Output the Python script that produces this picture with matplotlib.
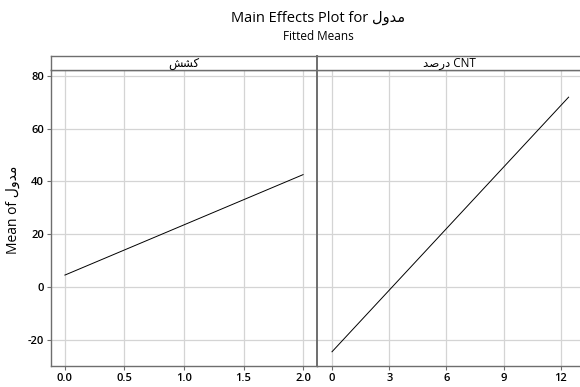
import matplotlib
matplotlib.use("Agg")
import matplotlib.pyplot as plt

# Arabic/Persian words in presentation forms (visual order)
resp = "\uFEDD\uFEED\uFEAA\uFEE3"          # مدول
f1_name = "\uFEB6\uFEB8\uFB90"              # کشش
f2_name = "\uFEAA\uFEBB\uFEAD\uFEA9 CNT"    # درصد CNT

f1_levels = [0.0, 2.0]
f1_means = [4.5, 42.6]
f2_levels = [0.0, 12.4]
f2_means = [-24.6, 72.0]

f1_ticks = [0.0, 0.5, 1.0, 1.5, 2.0]
f1_ticklabels = ["0.0", "0.5", "1.0", "1.5", "2.0"]
f2_ticks = [0, 3, 6, 9, 12]
y_ticks = [-20, 0, 20, 40, 60, 80]

FAM = ["Open Sans", "DejaVu Sans"]
plt.rcParams["font.family"] = FAM
plt.rcParams["axes.unicode_minus"] = False

W, H = 580, 387
fig = plt.figure(figsize=(W / 100, H / 100), dpi=100)

def fx(px):
    return px / W

def fy(py):
    return 1 - py / H

plot_top, plot_bot = 70, 366
strip_top = 56
panels = [
    (51, 317, f1_name, f1_levels, f1_means, f1_ticks, f1_ticklabels, (-0.117, 2.117)),
    (317, 581, f2_name, f2_levels, f2_means, f2_ticks, [str(t) for t in f2_ticks], (-0.786, 13.05)),
]
spine_col = "#6e6e6e"
grid_col = "#d4d4d4"
axes = []
for i, (x0, x1, name, lv, mn, xt, xtl, xl) in enumerate(panels):
    ax = fig.add_axes([fx(x0), fy(plot_bot), fx(x1 - x0), (plot_bot - plot_top) / H])
    ax.plot(lv, mn, color="black", lw=0.7)
    ax.set_xlim(*xl)
    ax.set_ylim(-30.0, 82.3)
    ax.set_xticks(xt)
    ax.set_xticklabels(xtl)
    ax.set_yticks(y_ticks)
    ax.grid(True, color=grid_col, lw=0.9)
    ax.set_axisbelow(True)
    for s in ax.spines.values():
        s.set_color(spine_col)
        s.set_linewidth(1.0)
    ax.tick_params(axis="both", colors="black", labelsize=8, length=3, width=0.8,
                   color=spine_col, pad=2)
    for lab in ax.get_xticklabels() + ax.get_yticklabels():
        lab.set_fontweight("semibold")
    if i == 1:
        ax.tick_params(axis="y", left=False, labelleft=False)
        ax.spines["left"].set_linewidth(1.4)
    else:
        ax.set_ylabel("Mean of " + resp, fontsize=10)
        ax.yaxis.set_label_coords(-0.112, 0.527)
    # strip
    sax = fig.add_axes([fx(x0), fy(plot_top), fx(x1 - x0), (plot_top - strip_top) / H])
    sax.set_xticks([])
    sax.set_yticks([])
    for s in sax.spines.values():
        s.set_color(spine_col)
        s.set_linewidth(1.0)
    if i == 1:
        sax.spines["left"].set_linewidth(1.4)
    sax.text(0.5, 0.45, name, ha="center", va="center", fontsize=8.5,
             transform=sax.transAxes)
    axes.append(ax)

fig.text(fx(318), fy(18), "Main Effects Plot for " + resp, ha="center", va="center",
         fontsize=10.5)
fig.text(fx(318), fy(37), "Fitted Means", ha="center", va="center", fontsize=8.5)

fig.savefig("out.png", dpi=100)
